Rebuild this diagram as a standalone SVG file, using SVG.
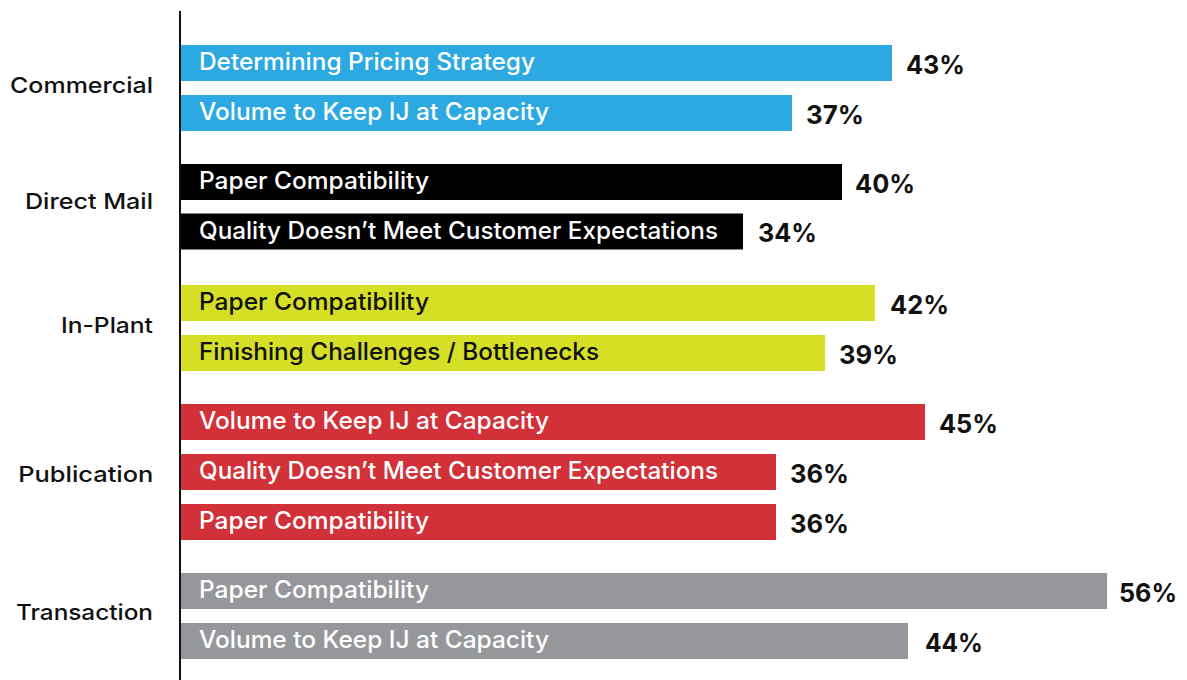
<svg xmlns="http://www.w3.org/2000/svg" width="1187" height="680" viewBox="0 0 1187 680">
<style>
.cat{font-family:Inter,"Liberation Sans",Arial,sans-serif;font-size:22px;font-weight:500;fill:#111;}
.lbl{font-family:Inter,"Liberation Sans",Arial,sans-serif;font-size:24px;font-weight:500;fill:#fff;}
.dk{fill:#111;}
.pct{font-family:Inter,"Liberation Sans",Arial,sans-serif;font-size:26px;font-weight:700;fill:#111;}
.blue{fill:#2DA9E1;}
.black{fill:#000;}
.lime{fill:#D4DF26;}
.red{fill:#D23139;}
.gray{fill:#96979B;}
</style>
<rect width="1187" height="680" fill="#fff"/>
<g id="axis">
<line x1="180" y1="11" x2="180" y2="680" stroke="#111" stroke-width="2"/>
</g>
<g id="categories">
<text class="cat" x="10" y="92.7" textLength="143" lengthAdjust="spacingAndGlyphs">Commercial</text>
<text class="cat" x="25" y="209.3" textLength="128" lengthAdjust="spacingAndGlyphs">Direct Mail</text>
<text class="cat" x="61" y="332.7" textLength="92" lengthAdjust="spacingAndGlyphs">In-Plant</text>
<text class="cat" x="18.3" y="481.7" textLength="135" lengthAdjust="spacingAndGlyphs">Publication</text>
<text class="cat" x="16" y="620" textLength="137" lengthAdjust="spacingAndGlyphs">Transaction</text>
</g>
<g id="bar-commercial-1">
<rect class="blue" x="181" y="45" width="711" height="36"/>
<text class="lbl" x="199" y="70" textLength="336" lengthAdjust="spacingAndGlyphs">Determining Pricing Strategy</text>
<text class="pct" x="906" y="73.5" textLength="59" lengthAdjust="spacingAndGlyphs">43%</text>
</g>
<g id="bar-commercial-2">
<rect class="blue" x="181" y="95" width="611" height="36"/>
<text class="lbl" x="199" y="120" textLength="350" lengthAdjust="spacingAndGlyphs">Volume to Keep IJ at Capacity</text>
<text class="pct" x="806" y="123.5" textLength="58" lengthAdjust="spacingAndGlyphs">37%</text>
</g>
<g id="bar-directmail-1">
<rect class="black" x="181" y="164" width="661" height="36"/>
<text class="lbl" x="199" y="189" textLength="230" lengthAdjust="spacingAndGlyphs">Paper Compatibility</text>
<text class="pct" x="855" y="192.5" textLength="60" lengthAdjust="spacingAndGlyphs">40%</text>
</g>
<g id="bar-directmail-2">
<rect class="black" x="181" y="213.5" width="562" height="36"/>
<text class="lbl" x="199" y="238.5" textLength="519" lengthAdjust="spacingAndGlyphs">Quality Doesn’t Meet Customer Expectations</text>
<text class="pct" x="758" y="242" textLength="59" lengthAdjust="spacingAndGlyphs">34%</text>
</g>
<g id="bar-inplant-1">
<rect class="lime" x="181" y="285" width="694" height="36"/>
<text class="lbl dk" x="199" y="310" textLength="230" lengthAdjust="spacingAndGlyphs">Paper Compatibility</text>
<text class="pct" x="890" y="314" textLength="59" lengthAdjust="spacingAndGlyphs">42%</text>
</g>
<g id="bar-inplant-2">
<rect class="lime" x="181" y="335" width="644" height="36"/>
<text class="lbl dk" x="199" y="360" textLength="400" lengthAdjust="spacingAndGlyphs">Finishing Challenges / Bottlenecks</text>
<text class="pct" x="839" y="364" textLength="59" lengthAdjust="spacingAndGlyphs">39%</text>
</g>
<g id="bar-publication-1">
<rect class="red" x="181" y="404" width="744" height="36"/>
<text class="lbl" x="199" y="429" textLength="350" lengthAdjust="spacingAndGlyphs">Volume to Keep IJ at Capacity</text>
<text class="pct" x="939" y="433" textLength="59" lengthAdjust="spacingAndGlyphs">45%</text>
</g>
<g id="bar-publication-2">
<rect class="red" x="181" y="454" width="595" height="36"/>
<text class="lbl" x="199" y="479" textLength="519" lengthAdjust="spacingAndGlyphs">Quality Doesn’t Meet Customer Expectations</text>
<text class="pct" x="790" y="483" textLength="59" lengthAdjust="spacingAndGlyphs">36%</text>
</g>
<g id="bar-publication-3">
<rect class="red" x="181" y="504" width="595" height="36"/>
<text class="lbl" x="199" y="529" textLength="230" lengthAdjust="spacingAndGlyphs">Paper Compatibility</text>
<text class="pct" x="790" y="533" textLength="59" lengthAdjust="spacingAndGlyphs">36%</text>
</g>
<g id="bar-transaction-1">
<rect class="gray" x="181" y="573" width="926" height="36"/>
<text class="lbl" x="199" y="598" textLength="230" lengthAdjust="spacingAndGlyphs">Paper Compatibility</text>
<text class="pct" x="1119" y="602" textLength="58" lengthAdjust="spacingAndGlyphs">56%</text>
</g>
<g id="bar-transaction-2">
<rect class="gray" x="181" y="623" width="727" height="36"/>
<text class="lbl" x="199" y="648" textLength="350" lengthAdjust="spacingAndGlyphs">Volume to Keep IJ at Capacity</text>
<text class="pct" x="925" y="652" textLength="58" lengthAdjust="spacingAndGlyphs">44%</text>
</g>
</svg>
